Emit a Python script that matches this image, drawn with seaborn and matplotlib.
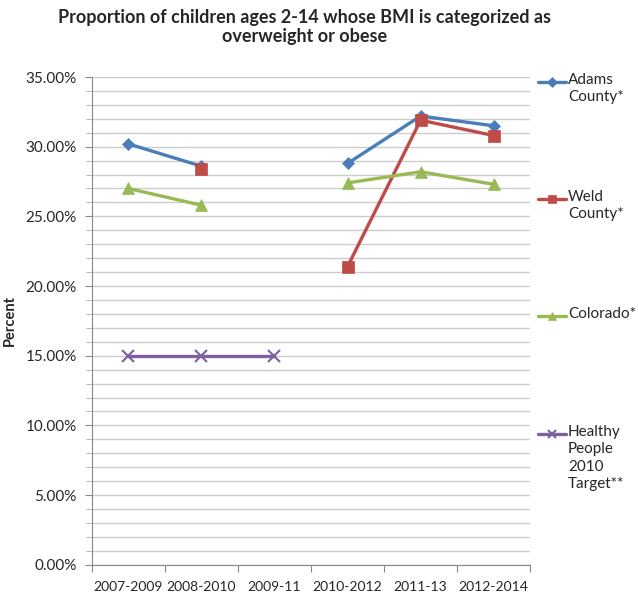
import numpy as np
import pandas as pd
import seaborn as sns
import matplotlib.pyplot as plt
from matplotlib.ticker import PercentFormatter, MultipleLocator
from matplotlib.lines import Line2D

# --- data ---
periods = ["2007-2009", "2008-2010", "2009-11", "2010-2012", "2011-13", "2012-2014"]
adams = [0.302, 0.286, np.nan, 0.288, 0.322, 0.315]
weld = [np.nan, 0.284, np.nan, 0.214, 0.319, 0.308]
colorado = [0.270, 0.258, np.nan, 0.274, 0.282, 0.273]
hp_target = [0.15, 0.15, 0.15, np.nan, np.nan, np.nan]

series_names = ["Adams\nCounty*", "Weld\nCounty*", "Colorado*", "Healthy\nPeople\n2010\nTarget**"]
series_vals = [adams, weld, colorado, hp_target]
colors = ["#4A7EBB", "#BE4B48", "#98B954", "#7D60A0"]
markers = ["D", "s", "^", "x"]
msizes = [6, 8, 8, 8]

# long table, with a segment id so gaps stay gaps
rows = []
for name, vals in zip(series_names, series_vals):
    seg = 0
    for i, v in enumerate(vals):
        if np.isnan(v):
            seg += 1
            continue
        rows.append({"series": name, "x": i, "value": v, "seg": f"{name}-{seg}"})
df = pd.DataFrame(rows)

sns.set_style("white")
plt.rcParams['font.family'] = ['Lato', 'DejaVu Sans']
plt.rcParams['axes.grid'] = False

fig = plt.figure(figsize=(6.38, 5.97), dpi=100)
ax = fig.add_axes([0.144, 0.054, 0.687, 0.817])

for name, c, m, ms in zip(series_names, colors, markers, msizes):
    sub = df[df["series"] == name]
    sns.lineplot(data=sub, x="x", y="value", units="seg", estimator=None,
                 color=c, marker=m, markersize=ms, markeredgecolor=c,
                 markeredgewidth=1.5 if m == "x" else 0.5,
                 linewidth=2.4, ax=ax, legend=False)

ax.set_xlim(-0.5, 5.5)
ax.set_ylim(0, 0.35)
ax.yaxis.set_major_locator(MultipleLocator(0.05))
ax.yaxis.set_minor_locator(MultipleLocator(0.01))
ax.yaxis.set_major_formatter(PercentFormatter(1.0, decimals=2))

# tick marks between categories, labels centred on categories
ax.set_xticks(np.arange(-0.5, len(periods), 1))
ax.set_xticklabels([])
ax.set_xticks(range(len(periods)), labels=periods, minor=True, fontsize=10)
ax.tick_params(axis="x", which="major", length=5, color="#888888", bottom=True)
ax.tick_params(axis="x", which="minor", length=0, pad=12)
ax.tick_params(axis="y", which="major", length=5, color="#888888", labelsize=11,
               left=True, pad=6)
ax.tick_params(axis="y", which="minor", length=4, color="#aaaaaa", left=True)

# horizontal gridlines only, one per 1%
ax.yaxis.grid(True, which="both", color="#cccccc", linewidth=1.0)
ax.xaxis.grid(False, which="both")
ax.set_axisbelow(True)

for s in ["top", "right"]:
    ax.spines[s].set_visible(False)
for s in ["left", "bottom"]:
    ax.spines[s].set_color("#888888")

ax.set_xlabel("")
ax.set_ylabel("Percent", fontsize=10.5, fontweight="bold", labelpad=6)

fig.text(0.478, 0.985, "Proportion of children ages 2-14 whose BMI is categorized as\noverweight or obese",
         ha="center", va="top", fontsize=13, fontweight="bold", linespacing=1.15)

# legend drawn by hand: marker on the first line of each wrapped label
legend_y = [82, 199, 316, 434]  # pixel rows of each entry's first line
for name, c, m, ms, py in zip(series_names, colors, markers, msizes, legend_y):
    yf = 1 - py / 597
    fig.add_artist(Line2D([538 / 638, 566 / 638], [yf, yf], transform=fig.transFigure,
                          color=c, linewidth=2.4))
    fig.add_artist(Line2D([552 / 638], [yf], transform=fig.transFigure, color=c,
                          marker=m, markersize=ms * 0.8, markeredgecolor=c,
                          markeredgewidth=1.5 if m == "x" else 0.5, linestyle="none"))
    fig.text(568 / 638, yf + 9 / 597, name, ha="left", va="top", fontsize=11,
             linespacing=1.3)

# hide any tall vertical line inside the plot (the reference has none)
fig.canvas.draw()
spine_x = ax.transAxes.transform((0, 0))[0]
for ln in fig.findobj(Line2D):
    if not ln.get_visible() or ln.get_linestyle() in ("None", "none", ""):
        continue
    pts = ln.get_transform().transform(ln.get_xydata())
    if len(pts) < 2 or not np.all(np.isfinite(pts)):
        continue
    dx = np.ptp(pts[:, 0])
    dy = np.ptp(pts[:, 1])
    if dx < 1 and dy > 200:
        ln.set_visible(False)

fig.savefig("out.png", dpi=100)
